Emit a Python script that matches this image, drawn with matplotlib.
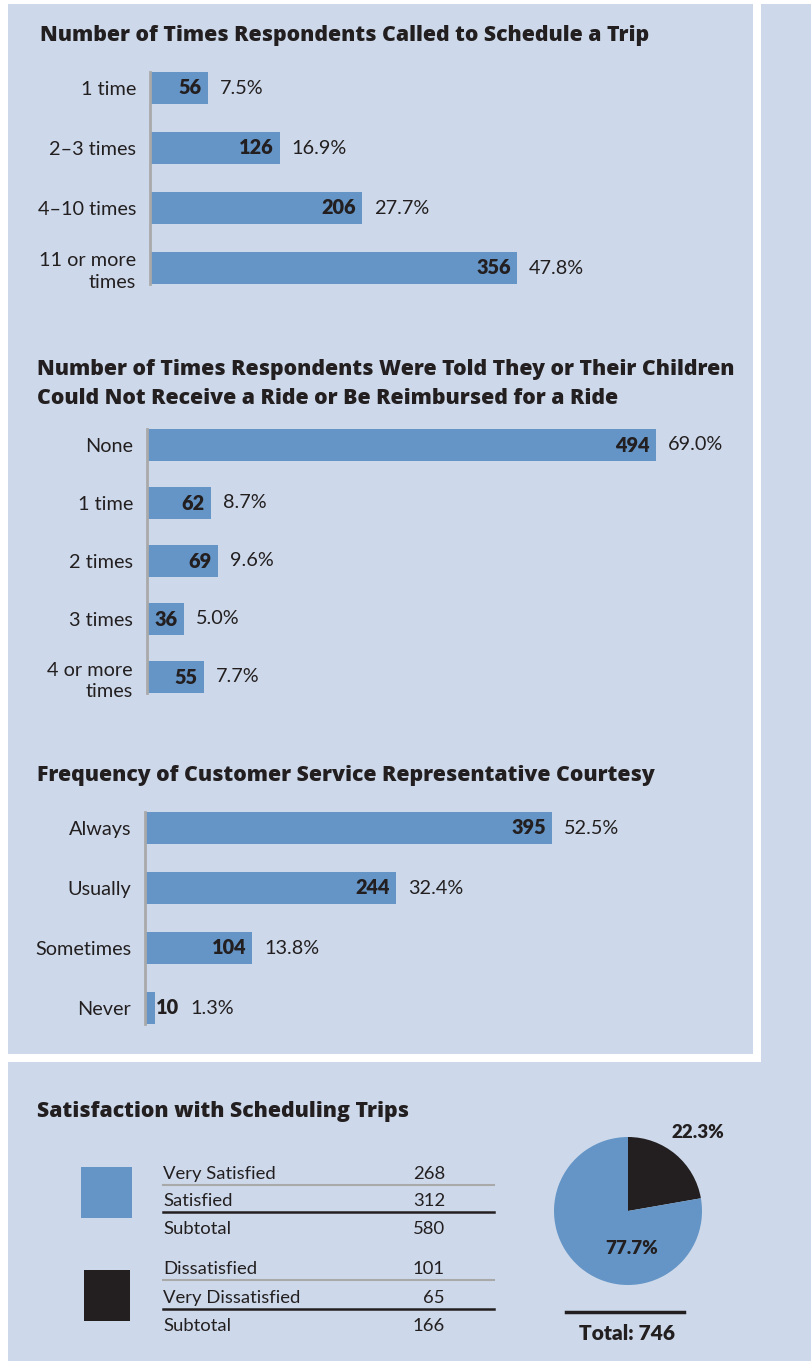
import matplotlib
matplotlib.use("Agg")
import matplotlib.pyplot as plt
from matplotlib.patches import Rectangle
from matplotlib.lines import Line2D

# ---------------- data ----------------
calls_cats = ["1 time", "2\u20133 times", "4\u201310 times", "11 or more\ntimes"]
calls_vals = [56, 126, 206, 356]
calls_pct = ["7.5%", "16.9%", "27.7%", "47.8%"]

denied_cats = ["None", "1 time", "2 times", "3 times", "4 or more\ntimes"]
denied_vals = [494, 62, 69, 36, 55]
denied_pct = ["69.0%", "8.7%", "9.6%", "5.0%", "7.7%"]

court_cats = ["Always", "Usually", "Sometimes", "Never"]
court_vals = [395, 244, 104, 10]
court_pct = ["52.5%", "32.4%", "13.8%", "1.3%"]

sat_labels = ["Very Satisfied", "Satisfied", "Dissatisfied", "Very Dissatisfied"]
sat_vals = [268, 312, 101, 65]
pie_pct = ["77.7%", "22.3%"]

titles = [
    "Number of Times Respondents Called to Schedule a Trip",
    "Number of Times Respondents Were Told They or Their Children\nCould Not Receive a Ride or Be Reimbursed for a Ride",
    "Frequency of Customer Service Representative Courtesy",
    "Satisfaction with Scheduling Trips",
]

# ---------------- style ----------------
W, H = 812, 1361
BG = "#cdd9ea"
BLUE = "#6495c6"
DARK = "#231f20"
GRAY = "#a9a9a9"
FONT = "Lato"
TFONT = "Open Sans"
TSIZE = 15.3
BSIZE = 13.3
CSIZE = 14.3
plt.rcParams["font.family"] = [FONT, "DejaVu Sans"]

fig = plt.figure(figsize=(W / 100, H / 100), dpi=100, facecolor="white")


def fx(x):
    return x / W


def fy(y):
    return 1 - y / H


def panel(x0, y0, x1, y1):
    fig.patches.append(Rectangle((fx(x0), fy(y1)), (x1 - x0) / W, (y1 - y0) / H,
                                 transform=fig.transFigure, facecolor=BG,
                                 edgecolor="none", zorder=-5))


panel(8, 4, 753, 1054)
panel(761, 4, 812, 1062)
panel(8, 1062, 812, 1361)


def bar_chart(cats, vals, pcts, axis_x, right_x, c0, spacing, scale):
    n = len(cats)
    half = 16
    top = c0 - half
    bottom = c0 + (n - 1) * spacing + half
    ax = fig.add_axes([fx(axis_x), fy(bottom), (right_x - axis_x) / W, (bottom - top) / H])
    ax.set_facecolor("none")
    ax.set_xlim(0, (right_x - axis_x) / scale)
    hu = half / spacing
    ax.set_ylim(n - 1 + hu, -hu)
    ypos = list(range(n))
    ax.barh(ypos, vals, height=2 * hu, color=BLUE, zorder=2)
    for s in ["top", "right", "bottom"]:
        ax.spines[s].set_visible(False)
    ax.spines["left"].set_color(GRAY)
    ax.spines["left"].set_linewidth(2)
    ax.spines["left"].set_zorder(3)
    ax.set_xticks([])
    ax.set_yticks(ypos)
    ax.set_yticklabels(cats, fontsize=CSIZE, color=DARK, linespacing=1.3)
    ax.tick_params(axis="y", length=0, pad=10)
    for y, v, p in zip(ypos, vals, pcts):
        barpx = v * scale
        if barpx < 30:
            ax.annotate(str(v), (v, y), xytext=(1, 0), textcoords="offset pixels",
                        ha="left", va="center", fontsize=CSIZE, fontweight="heavy",
                        color=DARK, zorder=4)
            off = 1 + 23 + 11
        else:
            ax.annotate(str(v), (v, y), xytext=(-6, 0), textcoords="offset pixels",
                        ha="right", va="center", fontsize=CSIZE, fontweight="heavy",
                        color=DARK, zorder=4)
            off = 12
        ax.annotate(p, (v, y), xytext=(off, 0), textcoords="offset pixels",
                    ha="left", va="center", fontsize=CSIZE, color=DARK, zorder=4)
    return ax


bar_chart(calls_cats, calls_vals, calls_pct, 150, 740, 88, 60, 1.03)
bar_chart(denied_cats, denied_vals, denied_pct, 147, 740, 445, 58, 1.03)
bar_chart(court_cats, court_vals, court_pct, 145, 740, 828, 60, 1.03)

# titles
tkw = dict(ha="left", va="center", fontsize=TSIZE, fontweight="heavy", color=DARK,
           family=[TFONT, "DejaVu Sans"])
fig.text(fx(40), fy(36), titles[0], **tkw)
fig.text(fx(37), fy(384), titles[1], linespacing=1.45, **tkw)
fig.text(fx(37), fy(775), titles[2], **tkw)
fig.text(fx(37), fy(1112), titles[3], **tkw)

# ---------------- satisfaction table ----------------
fig.patches.append(Rectangle((fx(81), fy(1218)), 51 / W, 51 / H, transform=fig.transFigure,
                             facecolor=BLUE, edgecolor="none", zorder=1))
fig.patches.append(Rectangle((fx(84), fy(1321)), 46 / W, 51 / H, transform=fig.transFigure,
                             facecolor=DARK, edgecolor="none", zorder=1))

sub_sat = sat_vals[0] + sat_vals[1]
sub_dis = sat_vals[2] + sat_vals[3]
rows = [
    (sat_labels[0], sat_vals[0], 1174, GRAY),
    (sat_labels[1], sat_vals[1], 1201, DARK),
    ("Subtotal", sub_sat, 1229, None),
    (sat_labels[2], sat_vals[2], 1269, GRAY),
    (sat_labels[3], sat_vals[3], 1298, DARK),
    ("Subtotal", sub_dis, 1326, None),
]
for label, val, yc, lc in rows:
    fig.text(fx(163), fy(yc), label, ha="left", va="center", fontsize=BSIZE, color=DARK)
    fig.text(fx(445), fy(yc), str(val), ha="right", va="center", fontsize=BSIZE, color=DARK)
    if lc is not None:
        ly = yc + 11
        fig.add_artist(Line2D([fx(163), fx(494)], [fy(ly), fy(ly)], color=lc,
                              linewidth=1.5 if lc == GRAY else 1.8, transform=fig.transFigure))

# ---------------- pie ----------------
cx, cy, r = 628, 1211, 74
pax = fig.add_axes([fx(cx - r), fy(cy + r), 2 * r / W, 2 * r / H])
pax.pie([sub_dis, sub_sat], colors=[DARK, BLUE], startangle=90, counterclock=False,
        radius=1.0, wedgeprops=dict(linewidth=0))
pax.set_xlim(-1, 1)
pax.set_ylim(-1, 1)
pax.set_aspect("equal")
pax.axis("off")

fig.text(fx(698), fy(1133), pie_pct[1], ha="center", va="center", fontsize=13.5,
         fontweight="heavy", color=DARK)
fig.text(fx(632), fy(1248), pie_pct[0], ha="center", va="center", fontsize=13.5,
         fontweight="heavy", color=DARK)
fig.add_artist(Line2D([fx(566), fx(684)], [fy(1312), fy(1312)], color=DARK,
                      linewidth=2.5, transform=fig.transFigure))
fig.text(fx(627), fy(1333), "Total: %d" % (sub_sat + sub_dis), ha="center", va="center",
         fontsize=15, fontweight="heavy", color=DARK)

fig.savefig("out.png", dpi=100, facecolor="white")
